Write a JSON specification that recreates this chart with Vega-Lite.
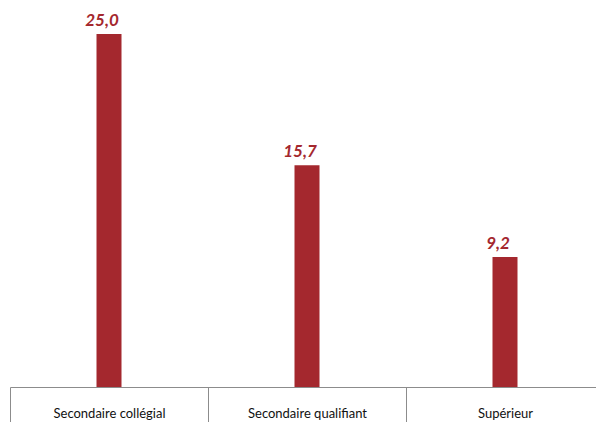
{
  "$schema": "https://vega.github.io/schema/vega-lite/v6.json",
  "autosize": "none",
  "padding": {"left": 10, "top": 34, "right": 0, "bottom": 35},
  "width": 586,
  "height": 353,
  "background": "white",
  "config": {
    "view": {"stroke": null},
    "locale": {"number": {"decimal": ",", "thousands": " ", "grouping": [3], "currency": ["", " €"]}}
  },
  "data": {"values": [
    {"niveau": "Secondaire collégial", "valeur": 25.0},
    {"niveau": "Secondaire qualifiant", "valeur": 15.7},
    {"niveau": "Supérieur", "valeur": 9.2}
  ]},
  "encoding": {
    "x": {"field": "niveau", "type": "nominal", "sort": null, "title": null,
      "scale": {"paddingInner": 0, "paddingOuter": 0, "range": [0, 594]},
      "axis": {"labelAngle": 0, "labelFont": "Lato", "labelFontSize": 13, "labelColor": "#111111",
        "domainColor": "#8c8c8c", "tickColor": "#8c8c8c", "tickBand": "extent", "tickSize": 36,
        "labelPadding": -16, "labelBaseline": "top"}},
    "y": {"field": "valeur", "type": "quantitative", "scale": {"domain": [0, 25], "nice": false}, "axis": null}
  },
  "layer": [
    {"mark": {"type": "bar", "size": 25, "color": "#A4282E"}},
    {"mark": {"type": "text", "dy": -8, "dx": -7, "baseline": "alphabetic", "font": "Lato", "fontSize": 17, "fontWeight": "bold", "fontStyle": "italic", "color": "#A4282E"},
     "encoding": {"text": {"field": "valeur", "type": "quantitative", "format": ".1f"}}}
  ]
}
